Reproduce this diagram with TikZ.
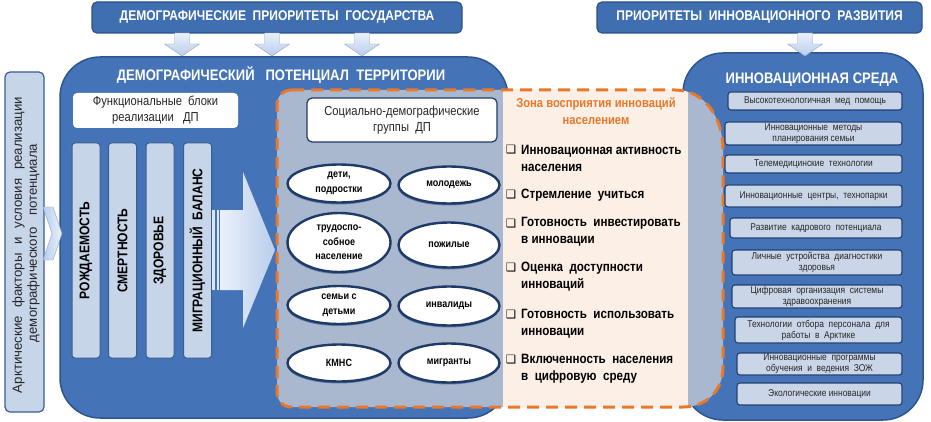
\documentclass[tikz,border=0pt]{standalone}
\usepackage{fontspec}
\setmainfont[FakeStretch=0.86]{Liberation Sans}
\newfontfamily\widefont{Liberation Sans}
\newfontfamily\dejavu{DejaVu Sans}
\usetikzlibrary{shadows,shapes.geometric}
\definecolor{hdr}{HTML}{3F6FB1}
\definecolor{hdrb}{HTML}{2C5287}
\definecolor{mainb}{HTML}{4573B7}
\definecolor{mainbd}{HTML}{2D568F}
\definecolor{lightb}{HTML}{C7D5E9}
\definecolor{lightbd}{HTML}{3A5E92}
\definecolor{grayreg}{HTML}{A9B8CE}
\definecolor{peach}{HTML}{FCEFE5}
\definecolor{orng}{HTML}{E8782A}
\definecolor{arrtop}{HTML}{EAF1FB}
\definecolor{arrbot}{HTML}{B9CDEC}
\definecolor{ellb}{HTML}{1F3A66}
\definecolor{innerb}{HTML}{CAD6E8}
\definecolor{innerbd}{HTML}{23416E}
\definecolor{txt}{HTML}{262626}
\tikzset{
  hdrbox/.style={draw=hdrb, line width=1.2pt, fill=hdr, rounded corners=5pt, text=white, font=\fontsize{14}{16}\selectfont\bfseries},
  bigbox/.style={draw=mainbd, line width=1.5pt, fill=mainb, rounded corners=40pt},
  titletext/.style={text=white, font=\fontsize{15.2}{18}\selectfont\bfseries},
  barbox/.style={draw=lightbd, line width=1pt, fill=lightb, rounded corners=3pt, minimum width=28pt, minimum height=215pt, inner sep=0pt},
  bartext/.style={rotate=90, text=black, font=\fontsize{14}{16}\selectfont\bfseries},
  whitebox/.style={draw=ellb, line width=1.2pt, fill=white, rounded corners=5pt, align=center, text=txt, font=\fontsize{13}{16}\selectfont},
  grp/.style={ellipse, draw=ellb, line width=2.4pt, fill=white, inner sep=0pt, align=center, text=black,
    font=\fontsize{10.5}{14.5}\selectfont\bfseries,
    drop shadow={shadow xshift=-0.5pt, shadow yshift=-2pt, fill=mainbd, opacity=0.6}},
  item/.style={align=left, text=black, inner sep=0pt, font=\fontsize{13.5}{17}\selectfont\bfseries},
  chk/.style={inner sep=0pt, font=\dejavu\fontsize{11.5}{11.5}\selectfont},
  inbox/.style={draw=innerbd, line width=1.1pt, fill=innerb, rounded corners=3pt, align=center, text=txt, inner sep=0pt,
    font=\fontsize{9.8}{11}\selectfont},
  lefttext/.style={rotate=90, text=txt, font=\widefont\fontsize{13.2}{15}\selectfont},
  lightarrow/.style={draw=arrbot!80!black, line width=0.4pt, top color=arrtop, bottom color=arrbot}
}
\begin{document}
\begin{tikzpicture}[x=1pt,y=-1pt]
\useasboundingbox (0,0) rectangle (931,422);
\fill[white] (0,0) rectangle (931,422);

% header boxes
\node[hdrbox, minimum width=370pt, minimum height=31pt] (hdr1) at (277,17.5) {ДЕМОГРАФИЧЕСКИЕ\ \ ПРИОРИТЕТЫ\ \ ГОСУДАРСТВА};
\node[hdrbox, minimum width=325pt, minimum height=31pt] (hdr2) at (759.5,17.5) {ПРИОРИТЕТЫ\ \ ИННОВАЦИОННОГО\ \ РАЗВИТИЯ};

% main boxes
\node[bigbox, minimum width=448pt, minimum height=361pt] (mainbox) at (284,237.5) {};
\node[bigbox, minimum width=240pt, minimum height=367pt] (rightbox) at (803,236.5) {};

% down arrows
\foreach \cx/\nm in {182/a1,272/a2,362/a3,805/a4}{
  \path[lightarrow] (\cx-7.5,33) -- (\cx+7.5,33) -- (\cx+7.5,44) -- (\cx+17.5,44) -- (\cx,56) -- (\cx-17.5,44) -- (\cx-7.5,44) -- cycle;
  \coordinate (\nm) at (\cx,56);
}

% left box
\node[draw=lightbd, line width=1.2pt, fill=lightb, rounded corners=5pt, minimum width=39pt, minimum height=340pt] (leftbox) at (24.5,242) {};
\node[lefttext] (lefttext1) at (18.5,245) {\makebox[296pt][s]{Арктические факторы и условия реализации}};
\node[lefttext] (lefttext2) at (33.5,243) {демографического\ \ \ потенциала};

% chevron
\path[draw=arrbot!80!black, line width=0.4pt, left color=arrbot, right color=arrtop] (43,207) -- (53,207) -- (62,233.5) -- (53,260) -- (43,260) -- (52,233.5) -- cycle;

% main title
\node[titletext] (maintitle) at (281,75) {ДЕМОГРАФИЧЕСКИЙ\ \ \ ПОТЕНЦИАЛ\ \ ТЕРРИТОРИИ};

% functional blocks
\node[whitebox, draw=none, rounded corners=4pt, minimum width=165pt, minimum height=35pt, inner sep=0pt] (func) at (155.5,110.5) {Функциональные\ \ блоки\\реализации\ \ \ ДП};
\node[barbox] (b1) at (86,250.5) {};
\node[barbox] (b2) at (122.5,250.5) {};
\node[barbox] (b3) at (160,250.5) {};
\node[barbox] (b4) at (197.5,250.5) {};
\node[bartext] at (b1) {РОЖДАЕМОСТЬ};
\node[bartext] at (b2) {СМЕРТНОСТЬ};
\node[bartext] at (b3) {ЗДОРОВЬЕ};
\node[bartext] at (b4) {МИГРАЦИОННЫЙ\ \ БАЛАНС};

% big arrow
\fill[arrtop!70!arrbot] (212,210) rectangle (214.5,290);
\fill[arrtop!70!arrbot] (216.5,210) rectangle (219,290);
\path[left color=arrtop, right color=arrbot, draw=none] (220,210) -- (243,210) -- (243,172) -- (275,250) -- (243,328) -- (243,290) -- (220,290) -- cycle;
\coordinate (bigtip) at (275,250);

% gray region and peach zone
\def\zonepath{(292,90) -- (675,90) .. controls (705,90) and (723,118) .. (723,150) -- (723,367) .. controls (723,392) and (705,407) .. (683,407) -- (292,407) .. controls (283,407) and (277,401) .. (277,392) -- (277,105) .. controls (277,96) and (283,90) .. (292,90) -- cycle}
\fill[grayreg] \zonepath;
\begin{scope}
  \clip \zonepath;
  \fill[peach] (503,80) rectangle (688,420);
\end{scope}
\draw[orng, line width=3pt, dash pattern=on 12pt off 7pt] \zonepath;

% social groups
\node[whitebox, minimum width=190pt, minimum height=44pt, inner sep=0pt] (soc) at (402,120) {Социально-демографические\\группы\ \ ДП};
\node[grp, minimum width=103pt, minimum height=38pt] (g1) at (339,183.5) {дети,\\подростки};
\node[grp, minimum width=101pt, minimum height=37pt] (g2) at (449,185) {молодежь};
\node[grp, minimum width=103pt, minimum height=59pt] (g3) at (339,242.5) {трудоспо-\\собное\\население};
\node[grp, minimum width=101pt, minimum height=45pt] (g4) at (449,245) {пожилые};
\node[grp, minimum width=103pt, minimum height=38pt] (g5) at (339,305) {семьи с\\детьми};
\node[grp, minimum width=101pt, minimum height=39pt] (g6) at (449,306) {инвалиды};
\node[grp, minimum width=103pt, minimum height=37pt] (g7) at (339,363) {КМНС};
\node[grp, minimum width=101pt, minimum height=39pt] (g8) at (449,363) {мигранты};

% zone of perception
\node[text=orng, align=center, font=\fontsize{13}{17}\selectfont\bfseries] (zonetitle) at (596,111) {Зона восприятия инноваций\\населением};
\node[chk] (c1) at (511,150) {❑};
\node[item, anchor=west] (i1) at (521,158) {Инновационная активность\\населения};
\node[chk] (c2) at (511,195) {❑};
\node[item, anchor=west] (i2) at (521,195) {Стремление\ \ учиться};
\node[chk] (c3) at (511,224) {❑};
\node[item, anchor=west] (i3) at (521,232) {Готовность\ \ инвестировать\\в инновации};
\node[chk] (c4) at (511,268) {❑};
\node[item, anchor=west] (i4) at (521,276.5) {Оценка\ \ доступности\\инноваций};
\node[chk] (c5) at (511,315) {❑};
\node[item, anchor=west] (i5) at (521,323.5) {Готовность\ \ использовать\\инновации};
\node[chk] (c6) at (511,360) {❑};
\node[item, anchor=west] (i6) at (521,369) {Включенность\ \ населения\\в\ \ цифровую\ \ среду};

% innovation environment
\node[titletext] (rtitle) at (812,80) {ИННОВАЦИОННАЯ\ СРЕДА};
\node[inbox, minimum width=174pt, minimum height=18pt] (r1) at (815,101) {Высокотехнологичная\ \ мед\ \ помощь};
\node[inbox, minimum width=177pt, minimum height=23pt] (r2) at (813.5,133.5) {Инновационные\ \ методы\\планирования семьи};
\node[inbox, minimum width=177pt, minimum height=18pt] (r3) at (813.5,164) {Телемедицинские\ \ технологии};
\node[inbox, minimum width=177pt, minimum height=22pt] (r4) at (813.5,196) {Инновационные\ \ центры,\ \ технопарки};
\node[inbox, minimum width=172pt, minimum height=20pt] (r5) at (816,228) {Развитие\ \ кадрового\ \ потенциала};
\node[inbox, minimum width=170pt, minimum height=25pt] (r6) at (817,262.5) {Личные\ \ устройства\ \ диагностики\\здоровья};
\node[inbox, minimum width=170pt, minimum height=23pt] (r7) at (817,296.5) {Цифровая\ \ организация\ \ системы\\здравоохранения};
\node[inbox, minimum width=167pt, minimum height=26pt] (r8) at (818.5,330) {Технологии\ \ отбора\ \ персонала\ \ для\\работы\ \ в\ \ Арктике};
\node[inbox, minimum width=165pt, minimum height=22pt] (r9) at (819.5,364) {Инновационные\ \ программы\\обучения\ \ и\ \ ведения\ \ ЗОЖ};
\node[inbox, minimum width=165pt, minimum height=22pt] (r10) at (819.5,394) {Экологические инновации};
\end{tikzpicture}
\end{document}
